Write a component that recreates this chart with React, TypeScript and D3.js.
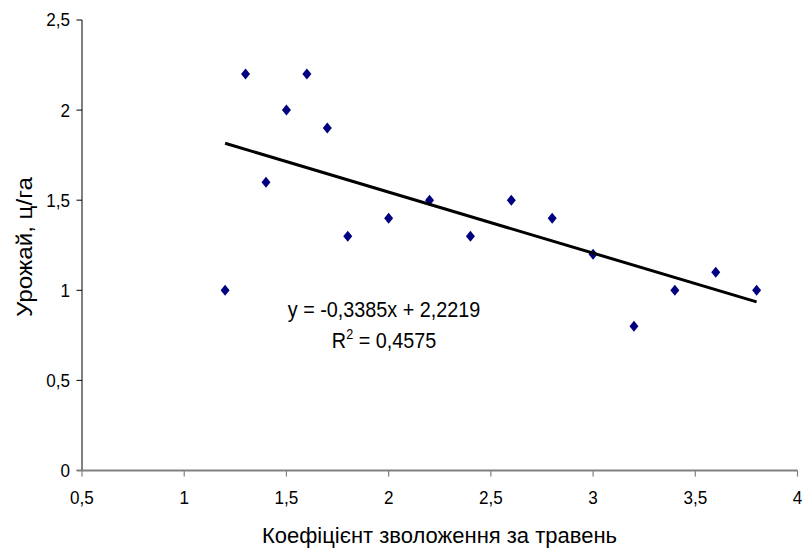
import React from "react";
import * as d3 from "d3";

const xValues = [1.2, 1.3, 1.4, 1.5, 1.6, 1.7, 1.8, 2.0, 2.2, 2.4, 2.6, 2.8, 3.0, 3.2, 3.4, 3.6, 3.8];
const yValues = [1.0, 2.2, 1.6, 2.0, 2.2, 1.9, 1.3, 1.4, 1.5, 1.3, 1.5, 1.4, 1.2, 0.8, 1.0, 1.1, 1.0];
const xTicks = [0.5, 1, 1.5, 2, 2.5, 3, 3.5, 4];
const yTicks = [0, 0.5, 1, 1.5, 2, 2.5];
const slope = -0.3385;
const intercept = 2.2219;
const trendRange = [1.2, 3.8];
const eqText = "y = -0,3385x + 2,2219";
const r2Value = "0,4575";
const xTitle = "Коефіцієнт зволоження за травень";
const yTitle = "Урожай, ц/га";

const W = 802;
const H = 548;
const FONT = "'Liberation Sans', Arial, sans-serif";
const fmt = (v: number) => String(v).replace(".", ",");

export default function App() {
  const x = d3.scaleLinear().domain([0.5, 4]).range([82, 797.5]);
  const y = d3.scaleLinear().domain([0, 2.5]).range([470.5, 20]);
  const pts = xValues.map((v, i) => [v, yValues[i]] as [number, number]);
  const line = d3
    .line<number>()
    .x((d) => x(d))
    .y((d) => y(slope * d + intercept));
  const diamond = (cx: number, cy: number) =>
    `M${cx},${cy - 5.5}L${cx + 4.5},${cy}L${cx},${cy + 5.5}L${cx - 4.5},${cy}Z`;
  const sx = 0.9;
  const tx = 0.95;

  return (
    <svg width={W} height={H} style={{ position: "absolute", left: 0, top: 0, background: "#fff" }} fontFamily={FONT}>
      <rect x={0} y={0} width={W} height={H} fill="#fff" />
      {/* Y axis */}
      <line x1={82} x2={82} y1={y(2.5)} y2={y(0)} stroke="#000" strokeWidth={1} />
      {yTicks.map((t) => (
        <g key={"y" + t}>
          <line x1={76.5} x2={82} y1={y(t)} y2={y(t)} stroke="#000" strokeWidth={1} />
          <text
            transform={`translate(70,${y(t)}) scale(${tx},1)`}
            textAnchor="end"
            dy="0.36em"
            fontSize={18}
            fill="#000"
          >
            {fmt(t)}
          </text>
        </g>
      ))}
      {/* X axis */}
      <line x1={77} x2={x(4)} y1={y(0)} y2={y(0)} stroke="#808080" strokeWidth={2} />
      {xTicks.map((t) => (
        <g key={"x" + t}>
          <line x1={x(t)} x2={x(t)} y1={y(0)} y2={y(0) + 6} stroke="#808080" strokeWidth={1.2} />
          <text
            transform={`translate(${x(t)},503.5) scale(${tx},1)`}
            textAnchor="middle"
            fontSize={18}
            fill="#000"
          >
            {fmt(t)}
          </text>
        </g>
      ))}
      {/* Points */}
      {pts.map(([a, b], i) => (
        <path key={"p" + i} d={diamond(x(a), y(b))} fill="#000080" />
      ))}
      {/* Trend line */}
      <path d={line(trendRange) || ""} fill="none" stroke="#000" strokeWidth={3} />
      {/* Equation */}
      <text transform={`translate(384,317) scale(${sx},1)`} textAnchor="middle" fontSize={22} fill="#000">
        {eqText}
      </text>
      <text transform={`translate(384,348) scale(${sx},1)`} textAnchor="middle" fontSize={22} fill="#000">
        R<tspan dy={-9} fontSize={14}>2</tspan>
        <tspan dy={9}>{" = " + r2Value}</tspan>
      </text>
      {/* Titles */}
      <text
        x={439.5}
        y={543}
        textAnchor="middle"
        fontSize={22}
        textLength={355}
        lengthAdjust="spacingAndGlyphs"
        fill="#000"
      >
        {xTitle}
      </text>
      <text
        transform={`translate(31.5,247) rotate(-90)`}
        textAnchor="middle"
        fontSize={22}
        textLength={140}
        lengthAdjust="spacingAndGlyphs"
        fill="#000"
      >
        {yTitle}
      </text>
    </svg>
  );
}
